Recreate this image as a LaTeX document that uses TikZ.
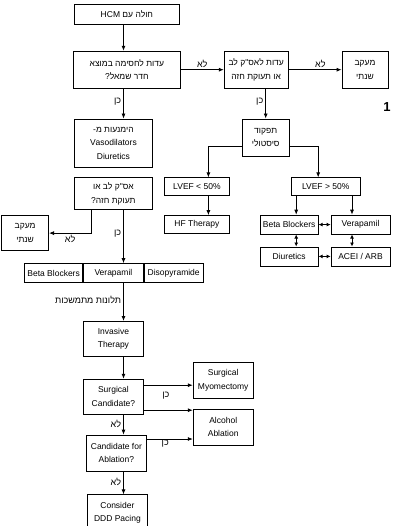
\documentclass[tikz,border=0pt]{standalone}
\usepackage{fontspec}
\setmainfont{Liberation Sans}
\newfontfamily\hebfont[Script=Hebrew]{Liberation Sans}
\TeXXeTstate=1
\usetikzlibrary{arrows.meta,positioning}

\begin{document}
\begin{tikzpicture}[
  x=1pt, y=-1pt,
  box/.style={rectangle, draw, line width=0.8pt, font=\fontsize{8.5}{13.5}\selectfont, align=center, inner sep=1pt},
  hbox/.style={box, font=\hebfont\fontsize{8.5}{13.5}\selectfont},
  arrow/.style={-{Latex[length=5pt,width=4pt]}, line width=0.8pt},
  twoway/.style={{Latex[length=4pt,width=4pt]}-{Latex[length=4pt,width=4pt]}, line width=0.8pt},
  lbl/.style={font=\hebfont\fontsize{9}{10}\selectfont, inner sep=2pt},
]
\useasboundingbox (0,0) rectangle (412,526);
\coordinate (colx) at (123.5,0);

% left column
\node[hbox, minimum width=105pt, minimum height=20pt, anchor=north west] (hcm) at (74,4) {\beginR חולה עם \beginL HCM\endL\endR};
\node[hbox, minimum width=107pt, minimum height=37pt, below=26pt of hcm] (lvot) {\beginR עדות לחסימה במוצא\endR\\\beginR חדר שמאל?\endR};
\node[hbox, minimum width=64pt, minimum height=37pt, right=43pt of lvot] (angina1) {\beginR עדות לאס"ק לב\endR\\\beginR או תעוקת חזה\endR};
\node[hbox, minimum width=46pt, minimum height=37pt, right=53pt of angina1] (follow1) {\beginR מעקב\endR\\\beginR שנתי\endR};
\node[hbox, minimum width=78pt, minimum height=48pt, below right=30pt and 1pt of lvot.south west] (avoid) {\beginR הימנעות מ-\endR\\Vasodilators\\Diuretics};
\node[hbox, minimum width=78pt, minimum height=32pt, below=10pt of avoid] (angina2) {\beginR אס"ק לב או\endR\\\beginR תעוקת חזה?\endR};
\node[hbox, minimum width=47pt, minimum height=35pt, below left=5pt and 25pt of angina2.south west] (follow2) {\beginR מעקב\endR\\\beginR שנתי\endR};

% drug row
\node[box, minimum width=60pt, minimum height=19pt, below=53pt of angina2] (verL) {Verapamil};
\node[box, minimum width=58pt, minimum height=19pt, left=0pt of verL] (bbL) {Beta Blockers};
\node[box, minimum width=59pt, minimum height=19pt, right=0pt of verL] (disoL) {Disopyramide};

% invasive part
\node[box, minimum width=60pt, minimum height=35pt, below=38pt of verL] (invasive) {Invasive\\Therapy};
\node[box, minimum width=60pt, minimum height=35pt, below=22pt of invasive] (surgcand) {Surgical\\Candidate?};
\node[box, minimum width=60pt, minimum height=36pt, right=49pt of surgcand, yshift=16.5pt] (myo) {Surgical\\Myomectomy};
\node[box, minimum width=60pt, minimum height=36pt, below=10pt of myo] (alcohol) {Alcohol\\Ablation};
\node[box, minimum width=60pt, minimum height=36pt, below=20pt of surgcand, xshift=3pt] (ablcand) {Candidate for\\Ablation?};
\node[box, minimum width=60pt, minimum height=36pt, below=23pt of ablcand, xshift=1pt] (ddd) {Consider\\DDD Pacing};

% right column
\node[hbox, minimum width=47pt, minimum height=37pt, below right=30pt and 18pt of angina1.south west] (systolic) {\beginR תפקוד\endR\\\beginR סיסטולי\endR};
\node[box, minimum width=65pt, minimum height=18pt, below left=21pt and 12pt of systolic.south west] (lveflow) {LVEF < 50\%};
\node[box, minimum width=65pt, minimum height=18pt, below=19pt of lveflow] (hf) {HF Therapy};
\node[box, minimum width=69pt, minimum height=18pt, right=61pt of lveflow] (lvefhigh) {LVEF > 50\%};
\node[box, minimum width=58pt, minimum height=19pt, right=30pt of hf] (bbR) {Beta Blockers};
\node[box, minimum width=59pt, minimum height=19pt, right=12pt of bbR] (verR) {Verapamil};
\node[box, minimum width=58pt, minimum height=19pt, below=12pt of bbR] (diuR) {Diuretics};
\node[box, minimum width=59pt, minimum height=19pt, right=12pt of diuR] (aceR) {ACEI / ARB};

\node[font=\bfseries\fontsize{13}{13}\selectfont] (one) at (387,107) {1};

% connectors
\draw[arrow] (hcm.south -| colx) -- (lvot.north -| colx);
\draw[arrow] (lvot) -- node[lbl, above] {\beginR לא\endR} (angina1);
\draw[arrow] (angina1) -- node[lbl, above, pos=0.6] {\beginR לא\endR} (follow1);
\draw[arrow] (lvot.south -| colx) -- node[lbl, left, pos=0.43] {\beginR כן\endR} (avoid.north -| colx);
\draw[arrow] (angina1.south -| systolic) -- node[lbl, left, pos=0.43] {\beginR כן\endR} (systolic);
\draw[arrow] ([xshift=-22pt]angina2.south) |- node[lbl, below, pos=0.75] {\beginR לא\endR} (follow2);
\draw[arrow] (angina2.south -| colx) -- node[lbl, left, pos=0.45] {\beginR כן\endR} (verL.north -| colx);

\draw[arrow] ([yshift=-8.5pt]systolic.west) -| ([xshift=11.5pt]lveflow.north);
\draw[arrow] ([yshift=-8.5pt]systolic.east) -| ([xshift=-7.5pt]lvefhigh.north);
\draw[arrow] ([xshift=11.5pt]lveflow.south) -- ([xshift=11.5pt]hf.north);
\draw[arrow] ([xshift=7pt]bbR.north |- lvefhigh.south) -- ([xshift=7pt]bbR.north);
\draw[arrow] ([xshift=-8.5pt]verR.north |- lvefhigh.south) -- ([xshift=-8.5pt]verR.north);
\draw[twoway] (bbR) -- (verR);
\draw[twoway] ([xshift=7pt]bbR.south) -- ([xshift=7pt]diuR.north);
\draw[twoway] ([xshift=-8.5pt]verR.south) -- ([xshift=-8.5pt]aceR.north);
\draw[twoway] (diuR) -- (aceR);

\draw[arrow] (verL.south -| colx) -- node[lbl, left, pos=0.45] {\beginR תלונות מתמשכות\endR} (invasive.north -| colx);
\draw[arrow] (invasive.south -| colx) -- (surgcand.north -| colx);
\draw[arrow] ([yshift=11.5pt]surgcand.east) -- node[lbl, below=5pt, pos=0.45] {\beginR כן\endR} ([yshift=11.5pt]surgcand.east -| myo.west);
\draw[arrow] ([yshift=-13.5pt]surgcand.east) -- ([yshift=-13.5pt]surgcand.east -| alcohol.west);
\draw[arrow] (surgcand.south -| colx) -- node[lbl, left, pos=0.45] {\beginR לא\endR} (ablcand.north -| colx);
\draw[arrow] ([yshift=14pt]ablcand.east) -- node[lbl, below=-1pt, pos=0.4] {\beginR כן\endR} ([yshift=14pt]ablcand.east -| alcohol.west);
\draw[arrow] (ablcand.south -| colx) -- node[lbl, left, pos=0.45] {\beginR לא\endR} (ddd.north -| colx);
\end{tikzpicture}
\end{document}
